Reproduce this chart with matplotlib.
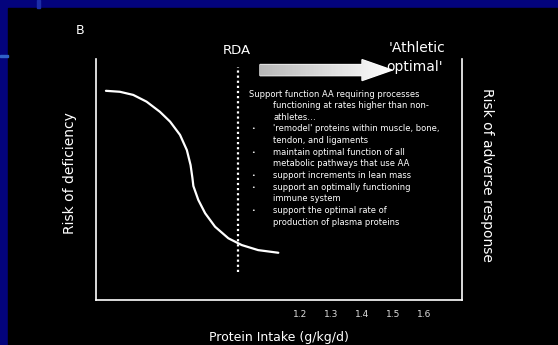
import numpy as np
import matplotlib
matplotlib.use("Agg")
import matplotlib.pyplot as plt
from matplotlib import patches

# datos del esquema
intake = [0.574, 0.619, 0.662, 0.705, 0.748, 0.781, 0.813, 0.835, 0.847,
          0.853, 0.856, 0.872, 0.894, 0.926, 0.969, 1.012, 1.065, 1.130]
risk = [0.868, 0.864, 0.851, 0.823, 0.781, 0.740, 0.685, 0.622, 0.560,
        0.506, 0.473, 0.415, 0.360, 0.304, 0.256, 0.228, 0.207, 0.196]
rda = 1.0
tick_vals = [1.2, 1.3, 1.4, 1.5, 1.6]
tick_labels = ["1.2", "1.3", "1.4", "1.5", "1.6"]

intro = ["Support function AA requiring processes",
         "functioning at rates higher than non-",
         "athletes…"]
bullets = [["'remodel' proteins within muscle, bone,", "tendon, and ligaments"],
           ["maintain optimal function of all", "metabolic pathways that use AA"],
           ["support increments in lean mass"],
           ["support an optimally functioning", "immune system"],
           ["support the optimal rate of", "production of plasma proteins"]]

W, H = 558, 345
fig = plt.figure(figsize=(W / 100, H / 100), dpi=100)
fig.patch.set_facecolor("#03037c")


def px(x, y):
    return x / W, 1 - y / H


# fondo de la diapositiva
bg = fig.add_axes([0, 0, 1, 1])
bg.set_xlim(0, W)
bg.set_ylim(H, 0)
bg.axis("off")
bg.add_patch(patches.Rectangle((8, 8), W - 8, H - 8, color="black"))
bg.add_patch(patches.Rectangle((0, 55), 8, 2, color="#2f62c8"))
bg.add_patch(patches.Rectangle((37, 0), 3, 8, color="#1c2ea8"))

# ejes del grafico
ax = fig.add_axes([96 / W, 45 / H, 366 / W, 241 / H])
ax.set_facecolor("none")
ax.set_xlim(1.2 - 204 / 310, 1.2 + 162 / 310)
ax.set_ylim(0, 1)
ax.spines["top"].set_visible(False)
for s in ["left", "right", "bottom"]:
    ax.spines[s].set_color("white")
    ax.spines[s].set_linewidth(1.2)
ax.set_yticks([])
ax.set_xticks(tick_vals)
ax.set_xticklabels(tick_labels, fontsize=6.5, color="#dddddd")
ax.tick_params(axis="x", length=0, pad=7)

# curva de riesgo
ax.plot(intake, risk, color="white", lw=1.6, solid_capstyle="round",
        solid_joinstyle="round")

# linea RDA punteada
ax.plot([rda, rda], [0.116, 0.967], color="white", lw=1.6, ls=(0, (1, 1.3)))

# flecha con degradado
arrow = patches.FancyArrow(1.071, 0.954, 0.426, 0, width=0.046,
                           head_width=0.087, head_length=0.097,
                           length_includes_head=True, color="white", clip_on=False)
ax.add_patch(arrow)
grad = np.linspace(0.72, 1.0, 256).reshape(1, -1)
img = ax.imshow(grad, extent=[1.071, 1.497, 0.90, 1.01], aspect="auto",
                cmap="gray", vmin=0, vmax=1, zorder=3, clip_on=True)
img.set_clip_path(arrow)

# textos
fig.text(*px(80, 30), "B", color="white", fontsize=9, ha="center", va="center")
fig.text(*px(237, 50), "RDA", color="white", fontsize=9.5, ha="center", va="center")
fig.text(*px(417, 48), "'Athletic", color="white", fontsize=10, ha="center", va="center")
fig.text(*px(415, 67), "optimal'", color="white", fontsize=10, ha="center", va="center")

y0, dy = 94, 11.65
i = 0
for j, line in enumerate(intro):
    fig.text(*px(249 if j == 0 else 273, y0 + i * dy), line, color="white",
             fontsize=6, ha="left", va="center")
    i += 1
for b in bullets:
    fig.text(*px(251, y0 + i * dy), "•", color="white", fontsize=4.5,
             ha="left", va="center")
    for line in b:
        fig.text(*px(273, y0 + i * dy), line, color="white", fontsize=6,
                 ha="left", va="center")
        i += 1

fig.text(*px(70, 173), "Risk of deficiency", color="white", fontsize=10,
         rotation=90, ha="center", va="center")
fig.text(*px(487, 175), "Risk of adverse response", color="white", fontsize=10,
         rotation=270, ha="center", va="center")
fig.text(*px(279, 337), "Protein Intake (g/kg/d)", color="white", fontsize=9,
         ha="center", va="center")

fig.savefig("out.png", dpi=100, facecolor=fig.get_facecolor())
